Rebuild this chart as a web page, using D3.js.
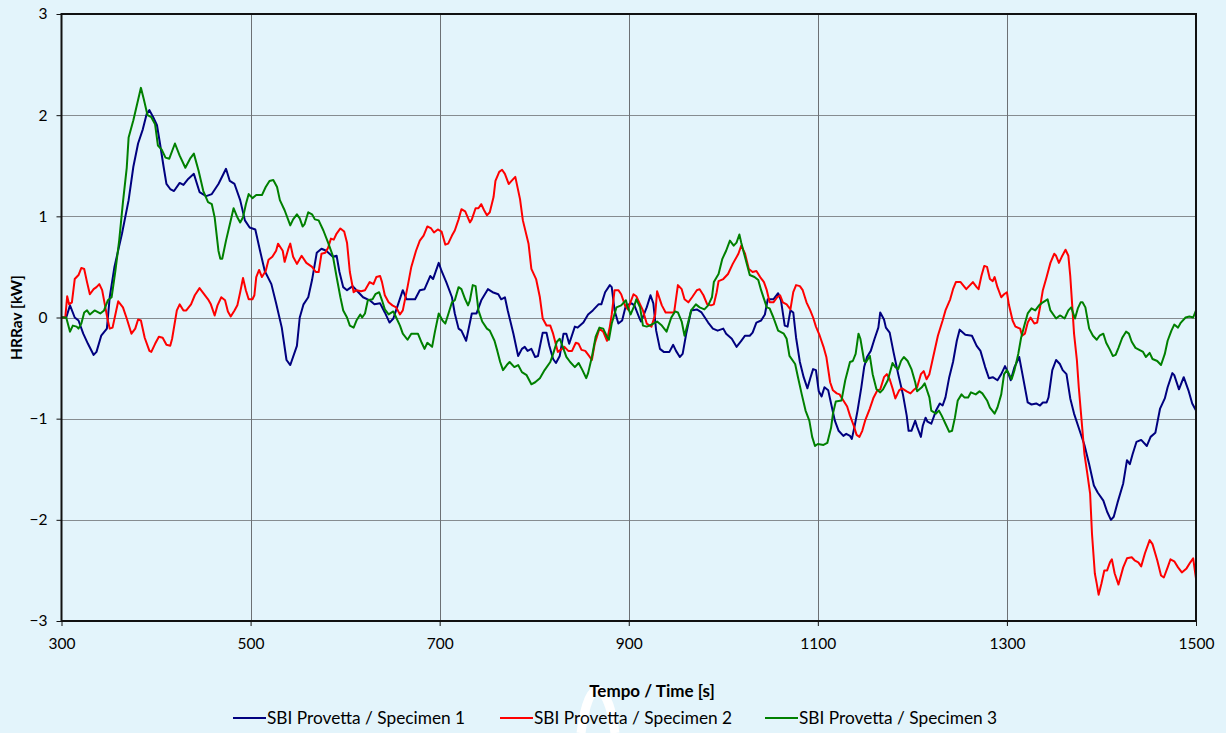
<!DOCTYPE html>
<html>
<head>
<meta charset="utf-8">
<script src="https://cdn.jsdelivr.net/npm/d3@7"></script>
<style>
  html, body { margin: 0; padding: 0; background: #e3f4fb; }
  svg { display: block; }
  text { font-family: Lato, "Open Sans", sans-serif; fill: #000; }
</style>
</head>
<body>
<svg id="chart" width="1226" height="733"></svg>
<script>
// Axis settings
const xTicks = [300, 500, 700, 900, 1100, 1300, 1500];
const yTicks = [-3, -2, -1, 0, 1, 2, 3];
const xTitle = "Tempo / Time [s]";
const yTitle = "HRRav [kW]";

const seriesNames = [
  "SBI Provetta / Specimen 1",
  "SBI Provetta / Specimen 2",
  "SBI Provetta / Specimen 3"
];
const seriesColors = ["#00007f", "#ff0000", "#008000"];

// Averaged heat release rate, [time s, HRRav kW]
const specimen1 = [[300,0],[305,0],[309,0.12],[314,0.0],[318,-0.03],[323,-0.16],[328,-0.26],[334,-0.37],[337,-0.34],[342,-0.18],[348,-0.11],[351,0.2],[356,0.5],[364,0.83],[371,1.16],[376,1.49],[381,1.72],[386,1.86],[390,2.01],[393,2.05],[397,1.98],[401,1.9],[404,1.73],[408,1.49],[411,1.32],[415,1.27],[419,1.25],[425,1.33],[429,1.31],[434,1.37],[440,1.42],[446,1.24],[453,1.2],[459,1.22],[466,1.32],[474,1.47],[478,1.35],[483,1.32],[489,1.16],[494,0.96],[499,0.89],[505,0.87],[510,0.66],[515,0.46],[522,0.33],[527,0.14],[533,-0.1],[538,-0.42],[542,-0.47],[549,-0.28],[552,0.0],[556,0.13],[561,0.2],[565,0.37],[570,0.64],[575,0.68],[580,0.66],[587,0.6],[591,0.61],[594,0.45],[598,0.3],[602,0.27],[608,0.31],[614,0.25],[619,0.2],[626,0.17],[631,0.13],[637,0.14],[642,0.05],[647,-0.05],[651,-0.01],[656,0.13],[661,0.27],[665,0.18],[674,0.18],[679,0.27],[684,0.28],[690,0.41],[693,0.38],[699,0.54],[702,0.46],[707,0.35],[713,0.2],[716,0.04],[720,-0.11],[723,-0.13],[728,-0.23],[734,0.04],[739,0.04],[744,0.17],[751,0.28],[756,0.25],[762,0.23],[765,0.18],[769,0.2],[772,0.07],[778,-0.16],[783,-0.38],[787,-0.31],[790,-0.29],[793,-0.33],[797,-0.31],[801,-0.39],[804,-0.38],[809,-0.15],[813,-0.15],[816,-0.28],[820,-0.41],[823,-0.45],[827,-0.38],[831,-0.16],[834,-0.16],[837,-0.26],[843,-0.09],[846,-0.1],[852,-0.05],[857,0.03],[862,0.07],[868,0.13],[871,0.13],[875,0.25],[880,0.32],[882,0.3],[885,0.07],[889,-0.06],[893,-0.03],[897,0.12],[903,0.14],[906,0.12],[911,0.0],[913,-0.04],[919,0.1],[923,0.22],[926,0.14],[929,-0.13],[933,-0.31],[937,-0.34],[943,-0.34],[947,-0.27],[950,-0.33],[954,-0.39],[957,-0.36],[961,-0.15],[966,0.07],[972,0.08],[977,0.05],[984,-0.05],[989,-0.11],[994,-0.13],[1000,-0.11],[1003,-0.16],[1009,-0.21],[1014,-0.29],[1019,-0.23],[1023,-0.18],[1028,-0.18],[1031,-0.15],[1035,-0.05],[1040,-0.03],[1044,0.03],[1047,0.18],[1053,0.18],[1058,0.24],[1061,0.17],[1065,-0.08],[1068,-0.09],[1071,0.07],[1074,0.05],[1077,-0.2],[1081,-0.44],[1085,-0.59],[1089,-0.7],[1092,-0.6],[1095,-0.51],[1098,-0.52],[1101,-0.73],[1104,-0.78],[1107,-0.69],[1111,-0.72],[1114,-0.85],[1118,-1.02],[1122,-1.12],[1127,-1.17],[1130,-1.15],[1134,-1.17],[1136,-1.2],[1139,-1.07],[1142,-0.92],[1146,-0.69],[1149,-0.49],[1152,-0.39],[1156,-0.33],[1160,-0.21],[1164,-0.1],[1166,0.05],[1170,-0.02],[1172,-0.1],[1176,-0.15],[1180,-0.34],[1185,-0.56],[1190,-0.76],[1194,-0.97],[1196,-1.12],[1199,-1.12],[1203,-1.02],[1205,-1.08],[1209,-1.18],[1211,-1.07],[1214,-0.99],[1216,-1.03],[1220,-1.05],[1225,-0.92],[1229,-0.85],[1232,-0.87],[1235,-0.79],[1239,-0.59],[1243,-0.44],[1247,-0.23],[1250,-0.12],[1256,-0.17],[1263,-0.18],[1268,-0.28],[1272,-0.33],[1277,-0.49],[1281,-0.6],[1285,-0.59],[1290,-0.62],[1294,-0.56],[1298,-0.48],[1301,-0.54],[1304,-0.62],[1308,-0.49],[1313,-0.39],[1317,-0.59],[1322,-0.84],[1326,-0.86],[1331,-0.85],[1335,-0.87],[1338,-0.84],[1342,-0.84],[1344,-0.79],[1348,-0.52],[1352,-0.42],[1356,-0.46],[1359,-0.52],[1363,-0.56],[1367,-0.8],[1371,-0.95],[1377,-1.12],[1382,-1.26],[1387,-1.45],[1392,-1.66],[1396,-1.73],[1402,-1.81],[1406,-1.92],[1410,-2.0],[1413,-1.97],[1417,-1.83],[1423,-1.64],[1427,-1.41],[1430,-1.45],[1433,-1.35],[1437,-1.23],[1442,-1.21],[1448,-1.27],[1452,-1.18],[1457,-1.14],[1462,-0.9],[1467,-0.8],[1470,-0.69],[1475,-0.55],[1477,-0.57],[1482,-0.71],[1487,-0.59],[1492,-0.72],[1496,-0.85],[1500,-0.92]];

const specimen2 = [[300,0],[304,0],[306,0.21],[308,0.13],[311,0.15],[314,0.38],[318,0.42],[321,0.49],[324,0.48],[327,0.35],[330,0.23],[334,0.28],[337,0.3],[340,0.33],[343,0.27],[346,0.12],[349,-0.03],[351,-0.11],[354,-0.1],[357,0.03],[360,0.16],[365,0.1],[369,-0.01],[374,-0.16],[378,-0.11],[381,-0.02],[384,-0.03],[388,-0.2],[393,-0.33],[395,-0.34],[399,-0.26],[403,-0.19],[407,-0.2],[411,-0.27],[415,-0.28],[417,-0.21],[422,0.07],[425,0.13],[429,0.07],[432,0.07],[437,0.13],[441,0.22],[446,0.29],[450,0.24],[455,0.18],[458,0.13],[462,0.02],[465,0.12],[469,0.2],[473,0.17],[476,0.06],[479,0.01],[483,0.07],[486,0.12],[489,0.25],[492,0.39],[495,0.27],[498,0.18],[502,0.18],[504,0.22],[506,0.4],[509,0.47],[512,0.4],[516,0.46],[519,0.57],[523,0.6],[527,0.66],[529,0.73],[534,0.66],[536,0.55],[540,0.68],[542,0.73],[545,0.6],[549,0.53],[554,0.61],[559,0.54],[565,0.5],[569,0.45],[572,0.45],[575,0.63],[579,0.64],[582,0.69],[585,0.78],[588,0.77],[591,0.83],[595,0.88],[599,0.85],[602,0.74],[605,0.45],[609,0.25],[612,0.27],[617,0.26],[621,0.27],[626,0.35],[630,0.33],[633,0.4],[637,0.41],[639,0.35],[642,0.22],[646,0.15],[650,0.12],[654,0.1],[658,0.03],[661,0.07],[666,0.3],[670,0.5],[675,0.66],[679,0.76],[683,0.81],[687,0.9],[691,0.88],[694,0.84],[698,0.87],[702,0.85],[706,0.72],[709,0.73],[713,0.81],[716,0.86],[720,0.97],[723,1.07],[727,1.05],[732,0.94],[734,0.97],[738,1.08],[741,1.08],[744,1.12],[747,1.06],[750,1.01],[753,1.04],[757,1.19],[759,1.35],[763,1.44],[766,1.46],[769,1.42],[773,1.32],[777,1.36],[780,1.39],[785,1.17],[788,0.96],[794,0.73],[797,0.48],[802,0.38],[806,0.2],[809,-0.01],[813,-0.08],[817,-0.08],[820,-0.16],[825,-0.34],[828,-0.32],[832,-0.29],[836,-0.33],[840,-0.33],[844,-0.25],[847,-0.26],[850,-0.32],[854,-0.33],[858,-0.38],[861,-0.42],[864,-0.26],[869,-0.11],[873,-0.14],[877,-0.23],[880,-0.09],[882,0.03],[885,0.27],[889,0.27],[892,0.23],[896,0.12],[899,0.08],[901,0.13],[905,0.23],[908,0.21],[912,0.13],[915,0.07],[919,-0.06],[924,-0.09],[928,0.03],[930,0.26],[935,0.12],[939,0.05],[943,0.05],[948,0.05],[952,0.32],[956,0.28],[959,0.18],[963,0.15],[967,0.2],[972,0.27],[975,0.28],[979,0.22],[983,0.13],[987,0.12],[990,0.13],[993,0.25],[995,0.36],[1000,0.38],[1005,0.43],[1010,0.53],[1016,0.63],[1019,0.71],[1023,0.63],[1027,0.48],[1031,0.45],[1035,0.46],[1039,0.4],[1043,0.35],[1046,0.27],[1049,0.15],[1053,0.15],[1057,0.2],[1060,0.22],[1063,0.15],[1067,0.13],[1071,0.08],[1074,0.25],[1077,0.32],[1081,0.31],[1084,0.27],[1088,0.15],[1092,0.07],[1095,0.0],[1098,-0.09],[1102,-0.18],[1106,-0.29],[1109,-0.39],[1113,-0.64],[1116,-0.72],[1120,-0.75],[1123,-0.76],[1127,-0.82],[1131,-0.88],[1134,-0.97],[1138,-1.07],[1141,-1.16],[1144,-1.18],[1147,-1.12],[1150,-1.02],[1155,-0.9],[1159,-0.79],[1163,-0.72],[1166,-0.71],[1170,-0.59],[1173,-0.56],[1176,-0.61],[1179,-0.7],[1182,-0.8],[1186,-0.72],[1189,-0.7],[1194,-0.73],[1198,-0.75],[1201,-0.72],[1205,-0.69],[1209,-0.56],[1212,-0.53],[1215,-0.61],[1218,-0.56],[1222,-0.39],[1227,-0.18],[1232,-0.03],[1235,0.07],[1240,0.18],[1243,0.28],[1246,0.35],[1251,0.35],[1257,0.28],[1260,0.31],[1264,0.35],[1268,0.3],[1270,0.28],[1273,0.41],[1276,0.51],[1279,0.5],[1282,0.38],[1285,0.36],[1287,0.4],[1290,0.3],[1294,0.2],[1297,0.23],[1300,0.25],[1302,0.13],[1306,-0.03],[1309,-0.09],[1314,-0.11],[1316,-0.18],[1319,-0.16],[1322,-0.05],[1325,0.0],[1329,-0.06],[1332,-0.05],[1335,0.1],[1338,0.27],[1342,0.4],[1346,0.54],[1350,0.63],[1352,0.61],[1355,0.54],[1358,0.6],[1362,0.67],[1365,0.61],[1367,0.41],[1369,0.13],[1371,-0.16],[1374,-0.42],[1376,-0.69],[1379,-1.02],[1382,-1.35],[1385,-1.54],[1388,-1.74],[1390,-2.14],[1393,-2.53],[1395,-2.63],[1397,-2.74],[1400,-2.63],[1403,-2.5],[1406,-2.5],[1409,-2.42],[1411,-2.39],[1414,-2.53],[1418,-2.64],[1423,-2.47],[1427,-2.38],[1432,-2.37],[1435,-2.4],[1439,-2.42],[1442,-2.46],[1446,-2.33],[1451,-2.2],[1454,-2.24],[1459,-2.4],[1463,-2.55],[1466,-2.57],[1470,-2.47],[1473,-2.39],[1477,-2.41],[1481,-2.47],[1485,-2.52],[1490,-2.48],[1494,-2.42],[1497,-2.38],[1500,-2.58]];

const specimen3 = [[300,0],[305,0],[309,-0.14],[312,-0.08],[316,-0.09],[318,-0.11],[321,-0.06],[324,0.05],[327,0.07],[330,0.03],[335,0.07],[341,0.04],[345,0.07],[349,0.17],[353,0.2],[357,0.46],[361,0.76],[365,1.14],[369,1.48],[371,1.78],[376,1.95],[380,2.11],[384,2.27],[387,2.16],[391,2.0],[395,1.98],[399,1.91],[402,1.7],[406,1.66],[410,1.58],[414,1.57],[420,1.72],[425,1.6],[431,1.48],[436,1.57],[440,1.62],[445,1.45],[450,1.25],[455,1.14],[459,1.12],[462,0.99],[466,0.66],[468,0.58],[470,0.58],[474,0.76],[478,0.92],[482,1.08],[486,0.99],[489,0.94],[492,0.99],[495,1.12],[498,1.22],[502,1.18],[506,1.21],[512,1.21],[516,1.29],[520,1.35],[524,1.36],[528,1.29],[531,1.16],[536,1.06],[542,0.91],[545,0.97],[549,1.02],[552,0.98],[555,0.9],[557,0.92],[561,1.04],[565,1.02],[568,0.97],[572,0.96],[577,0.86],[582,0.74],[587,0.61],[591,0.4],[595,0.2],[598,0.07],[602,0.0],[605,-0.08],[609,-0.1],[612,-0.03],[616,0.03],[618,0.0],[621,0.04],[624,0.17],[629,0.18],[632,0.23],[636,0.25],[639,0.17],[642,0.08],[646,0.03],[651,0.06],[654,0.0],[658,-0.08],[661,-0.16],[666,-0.22],[670,-0.16],[674,-0.16],[677,-0.16],[681,-0.25],[684,-0.31],[687,-0.25],[692,-0.29],[695,-0.14],[699,0.04],[703,-0.03],[706,-0.06],[709,0.03],[713,0.15],[716,0.17],[720,0.3],[723,0.28],[727,0.18],[730,0.12],[732,0.17],[735,0.32],[738,0.31],[741,0.07],[745,-0.04],[750,-0.11],[753,-0.13],[758,-0.23],[761,-0.33],[764,-0.44],[767,-0.52],[771,-0.47],[774,-0.44],[779,-0.49],[783,-0.47],[787,-0.54],[792,-0.57],[797,-0.66],[801,-0.64],[806,-0.6],[811,-0.52],[817,-0.44],[820,-0.36],[824,-0.24],[827,-0.21],[831,-0.31],[834,-0.39],[838,-0.44],[843,-0.49],[847,-0.45],[851,-0.52],[855,-0.6],[857,-0.55],[861,-0.39],[865,-0.19],[869,-0.1],[873,-0.11],[877,-0.19],[879,-0.22],[882,-0.06],[887,0.1],[892,0.12],[897,0.17],[899,0.1],[902,0.03],[906,0.12],[908,0.18],[912,0.1],[915,-0.08],[919,-0.09],[922,-0.08],[926,-0.06],[930,-0.04],[935,-0.08],[940,-0.14],[945,0.0],[949,0.06],[952,0.05],[956,-0.04],[959,-0.18],[963,-0.04],[966,0.07],[971,0.13],[975,0.1],[980,0.08],[984,0.12],[988,0.2],[990,0.35],[995,0.43],[999,0.58],[1003,0.66],[1007,0.76],[1011,0.71],[1014,0.74],[1017,0.82],[1019,0.74],[1024,0.56],[1028,0.42],[1033,0.4],[1037,0.37],[1040,0.27],[1046,0.1],[1049,0.09],[1053,0.0],[1058,-0.13],[1064,-0.16],[1067,-0.21],[1070,-0.38],[1076,-0.46],[1079,-0.59],[1083,-0.76],[1087,-0.92],[1091,-1.02],[1094,-1.18],[1097,-1.27],[1100,-1.25],[1106,-1.26],[1110,-1.24],[1114,-1.09],[1116,-0.95],[1119,-0.83],[1125,-0.82],[1129,-0.62],[1134,-0.44],[1137,-0.43],[1140,-0.36],[1143,-0.16],[1145,-0.21],[1149,-0.43],[1151,-0.44],[1155,-0.38],[1158,-0.56],[1162,-0.71],[1166,-0.74],[1169,-0.71],[1174,-0.62],[1179,-0.45],[1182,-0.49],[1185,-0.51],[1188,-0.43],[1191,-0.39],[1195,-0.43],[1199,-0.51],[1203,-0.64],[1205,-0.73],[1210,-0.69],[1213,-0.65],[1218,-0.79],[1220,-0.92],[1225,-0.95],[1228,-0.92],[1231,-0.97],[1236,-1.07],[1239,-1.13],[1242,-1.12],[1245,-0.99],[1248,-0.82],[1252,-0.76],[1255,-0.79],[1259,-0.79],[1262,-0.74],[1267,-0.76],[1271,-0.73],[1274,-0.75],[1279,-0.82],[1282,-0.89],[1287,-0.95],[1290,-0.89],[1294,-0.76],[1297,-0.56],[1300,-0.52],[1305,-0.61],[1308,-0.52],[1312,-0.36],[1315,-0.2],[1319,-0.06],[1322,0.04],[1326,0.09],[1330,0.07],[1334,0.12],[1338,0.15],[1343,0.18],[1346,0.07],[1352,-0.01],[1356,0.02],[1358,0.01],[1361,-0.01],[1365,0.07],[1368,0.1],[1372,-0.01],[1375,0.09],[1378,0.15],[1380,0.15],[1383,0.1],[1387,-0.11],[1391,-0.18],[1395,-0.22],[1398,-0.18],[1402,-0.16],[1405,-0.25],[1409,-0.32],[1412,-0.38],[1415,-0.37],[1418,-0.3],[1422,-0.2],[1426,-0.14],[1429,-0.16],[1432,-0.24],[1436,-0.3],[1440,-0.32],[1444,-0.34],[1447,-0.39],[1451,-0.35],[1454,-0.41],[1459,-0.43],[1463,-0.47],[1467,-0.36],[1470,-0.23],[1474,-0.13],[1477,-0.07],[1481,-0.1],[1484,-0.05],[1489,0.0],[1493,0.01],[1497,0.0],[1500,0.07]];

const allSeries = [specimen1, specimen2, specimen3];

const svg = d3.select("#chart");
const W = 1226, H = 733;
const plot = { left: 61.5, top: 14, right: 1196, bottom: 621 };

svg.append("rect").attr("width", W).attr("height", H).attr("fill", "#e3f4fb");

// White arch mark behind the bottom texts
svg.append("path")
  .attr("d", "M581,733 C585,703 591,690 597,690 C604,690 611,703 615,733")
  .attr("fill", "none").attr("stroke", "#fff").attr("stroke-width", 9);

const x = d3.scaleLinear().domain([300, 1500]).range([plot.left, plot.right]);
const y = d3.scaleLinear().domain([-3, 3]).range([plot.bottom, plot.top]);

// Grid lines
const grid = svg.append("g");
grid.selectAll("line.h").data(yTicks.filter(v => v > -3 && v < 3)).join("line")
  .attr("x1", plot.left).attr("x2", plot.right)
  .attr("y1", d => Math.round(y(d)) + 0.5).attr("y2", d => Math.round(y(d)) + 0.5)
  .attr("stroke", "#868c90").attr("stroke-width", 1);
grid.selectAll("line.v").data(xTicks.filter(v => v > 300 && v < 1500)).join("line")
  .attr("y1", plot.top).attr("y2", plot.bottom)
  .attr("x1", d => Math.round(x(d)) + 0.5).attr("x2", d => Math.round(x(d)) + 0.5)
  .attr("stroke", "#6c7074").attr("stroke-width", 1);

// Series lines
const line = d3.line().x(d => x(d[0])).y(d => y(d[1]));
svg.append("g").selectAll("path").data(allSeries).join("path")
  .attr("d", line)
  .attr("fill", "none")
  .attr("stroke", (d, i) => seriesColors[i])
  .attr("stroke-width", 2)
  .attr("stroke-linejoin", "round");

// Plot frame
svg.append("rect")
  .attr("x", plot.left).attr("y", plot.top)
  .attr("width", plot.right - plot.left).attr("height", plot.bottom - plot.top)
  .attr("fill", "none").attr("stroke", "#111").attr("stroke-width", 2);

// Axes
const yAxis = d3.axisLeft(y).tickValues(yTicks).tickFormat(d3.format("d")).tickSize(5).tickPadding(9);
const gy = svg.append("g").attr("transform", `translate(${plot.left},0)`).call(yAxis);
const xAxis = d3.axisBottom(x).tickValues(xTicks).tickFormat(d3.format("d")).tickSize(5).tickPadding(12);
const gx = svg.append("g").attr("transform", `translate(0,${plot.bottom})`).call(xAxis);
[gx, gy].forEach(g => {
  g.select(".domain").remove();
  g.selectAll(".tick line").attr("stroke", "#111").attr("stroke-width", 1);
  g.selectAll(".tick text").attr("font-size", 15.5).attr("font-family", "Lato, 'Open Sans', sans-serif").attr("fill", "#000");
});

// Axis titles
svg.append("text")
  .attr("transform", `translate(22,${(plot.top + plot.bottom) / 2}) rotate(-90)`)
  .attr("text-anchor", "middle")
  .attr("font-size", 15.5).attr("font-weight", "bold")
  .text(yTitle);
svg.append("text")
  .attr("x", 652).attr("y", 697)
  .attr("text-anchor", "middle")
  .attr("font-size", 17).attr("font-weight", "bold")
  .text(xTitle);

// Legend
const legendX = [233, 500, 765];
const legend = svg.append("g").selectAll("g").data(seriesNames).join("g")
  .attr("transform", (d, i) => `translate(${legendX[i]},718)`);
legend.append("line")
  .attr("x1", 0).attr("x2", 33).attr("y1", 0).attr("y2", 0)
  .attr("stroke", (d, i) => seriesColors[i]).attr("stroke-width", 2);
legend.append("text")
  .attr("x", 34).attr("y", 6)
  .attr("font-size", 17.3)
  .text(d => d);
</script>
</body>
</html>
